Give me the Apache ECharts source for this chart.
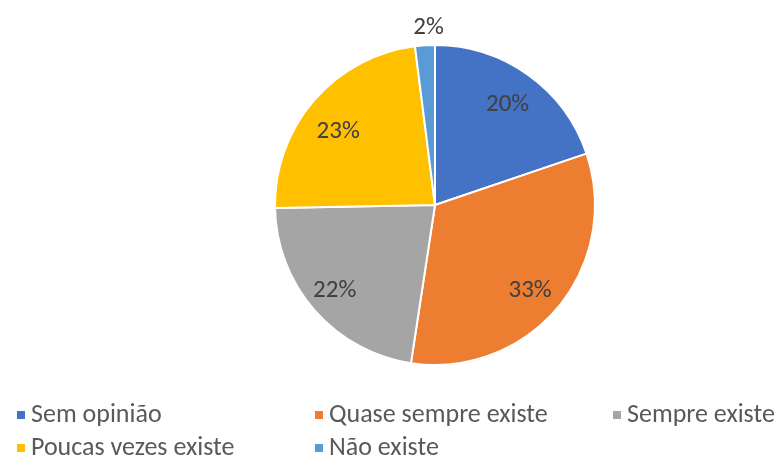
<!DOCTYPE html>
<html><head><meta charset="utf-8">
<script src="https://cdn.jsdelivr.net/npm/echarts@6/dist/echarts.min.js"></script>
<style>html,body{margin:0;padding:0;background:#fff}#c{width:784px;height:456px}</style>
</head><body><div id="c"></div>
<script>
const categories = ['Sem opinião', 'Quase sempre existe', 'Sempre existe', 'Poucas vezes existe', 'Não existe'];
const values = [19.8, 32.6, 22.3, 23.3, 2.0];
const colors = ['#4472C4', '#ED7D31', '#A5A5A5', '#FFC000', '#5B9BD5'];

// label nudges (style only)
const labelNudge = [[-2, 4], [-3, 4], [-4, 1], [0, 10], [5, 5]];

const chart = echarts.init(document.getElementById('c'));
const font = 'Carlito, "Open Sans", "Noto Sans", sans-serif';
const center = [435, 205];
const mainData = categories.map((n, i) => ({ name: n, value: values[i], itemStyle: { color: colors[i] } }));
const innerLabels = categories.map((n, i) => ({ name: n, value: values[i], label: { show: values[i] >= 5, offset: labelNudge[i] } }));
const outerLabels = categories.map((n, i) => ({ name: n, value: values[i], label: { show: values[i] < 5, offset: labelNudge[i] } }));
const legendPos = [[10, 397], [308, 397], [606, 397], [10, 430], [308, 430]];
const legends = categories.map((n, i) => ({
  left: legendPos[i][0], top: legendPos[i][1], data: [n],
  itemWidth: 10, itemHeight: 10, itemGap: 10, icon: 'rect', selectedMode: false,
  textStyle: { fontSize: 26, color: '#595959', fontFamily: font }
}));
const labelSeries = (data, r) => ({
  type: 'pie', center: center, radius: r, startAngle: 90, clockwise: true,
  data: data, silent: true, legendHoverLink: false,
  itemStyle: { color: 'rgba(0,0,0,0)', borderWidth: 0 },
  emphasis: { disabled: true }, labelLine: { show: false },
  label: { position: 'inside', formatter: p => Math.round(p.percent) + '%', fontSize: 25, color: '#404040', fontFamily: font }
});
chart.setOption({
  animation: false,
  color: colors,
  legend: legends,
  series: [
    {
      type: 'pie', center: center, radius: [0, 160], startAngle: 90, clockwise: true,
      data: mainData, label: { show: false }, labelLine: { show: false },
      itemStyle: { borderColor: '#fff', borderWidth: 2 }, silent: true
    },
    labelSeries(innerLabels, [120, 130]),
    labelSeries(outerLabels, [175, 185])
  ]
});
</script></body></html>
